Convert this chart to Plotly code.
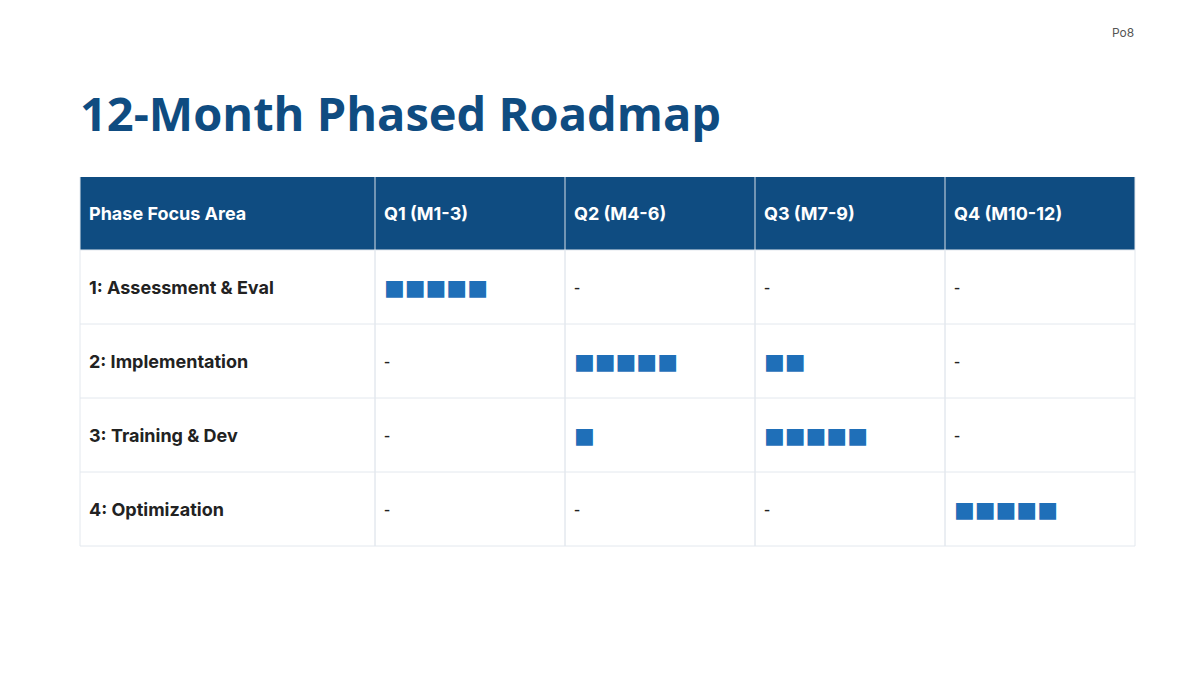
import plotly.graph_objects as go

# roadmap data
phases = ["1: Assessment & Eval", "2: Implementation", "3: Training & Dev", "4: Optimization"]
quarters = ["Q1 (M1-3)", "Q2 (M4-6)", "Q3 (M7-9)", "Q4 (M10-12)"]
# intensity per phase per quarter (number of blocks, 0 = none)
q1_blocks = [5, 0, 0, 0]
q2_blocks = [0, 5, 1, 0]
q3_blocks = [0, 2, 5, 0]
q4_blocks = [0, 0, 0, 5]

BLUE = "#0f4c81"
BLOCK = "#1f6fb8"
FONT = "Inter, sans-serif"

# table layout in page pixels
col_edges = [72, 367, 557, 747, 937, 1127]
top, head_h, row_h = 169, 73, 74

fig = go.Figure()

# header band
fig.add_shape(type="rect", x0=col_edges[0], x1=col_edges[-1], y0=top, y1=top + head_h,
              fillcolor=BLUE, line_width=0, layer="below")
bottom = top + head_h + row_h * len(phases)
# grid lines
for i, x in enumerate(col_edges):
    fig.add_shape(type="line", x0=x, x1=x, y0=top, y1=bottom,
                  line=dict(color="#d6dde6" if 0 < i < 5 else "#e3e8ee", width=1))
for r in range(len(phases) + 1):
    y = top + head_h + r * row_h
    fig.add_shape(type="line", x0=col_edges[0], x1=col_edges[-1], y0=y, y1=y,
                  line=dict(color="#e3e8ee", width=1))

headers = ["Phase Focus Area"] + quarters
for c, h in enumerate(headers):
    fig.add_annotation(x=col_edges[c] + 7, y=top + head_h / 2, text="<b>" + h + "</b>",
                       xanchor="left", yanchor="middle", showarrow=False,
                       font=dict(family=FONT, size=18, color="white"))

cols = [q1_blocks, q2_blocks, q3_blocks, q4_blocks]
for r, p in enumerate(phases):
    yc = top + head_h + r * row_h + row_h / 2
    fig.add_annotation(x=col_edges[0] + 7, y=yc, text="<b>" + p + "</b>",
                       xanchor="left", yanchor="middle", showarrow=False,
                       font=dict(family=FONT, size=18, color="#222222"))
    for c, vals in enumerate(cols):
        n = vals[r]
        if n:
            txt, col, size = "■" * n, BLOCK, 22
        else:
            txt, col, size = "-", "#222222", 17
        fig.add_annotation(x=col_edges[c + 1] + 7, y=yc, text=txt,
                           xanchor="left", yanchor="middle", showarrow=False,
                           font=dict(family="DejaVu Sans", size=size, color=col))

fig.add_annotation(text="<b>12-Month Phased Roadmap</b>", x=70, y=105,
                   xanchor="left", yanchor="middle", showarrow=False,
                   font=dict(family="Open Sans, sans-serif", size=47, color=BLUE))
fig.add_annotation(text="Po8", x=1128, y=24, xanchor="right", yanchor="middle",
                   showarrow=False, font=dict(family=FONT, size=12, color="#555555"))

fig.update_xaxes(range=[0, 1200], visible=False, fixedrange=True)
fig.update_yaxes(range=[675, 0], visible=False, fixedrange=True)
fig.update_layout(width=1200, height=675, margin=dict(l=0, r=0, t=0, b=0),
                  paper_bgcolor="white", plot_bgcolor="white", showlegend=False)
fig.write_html("out.html")
